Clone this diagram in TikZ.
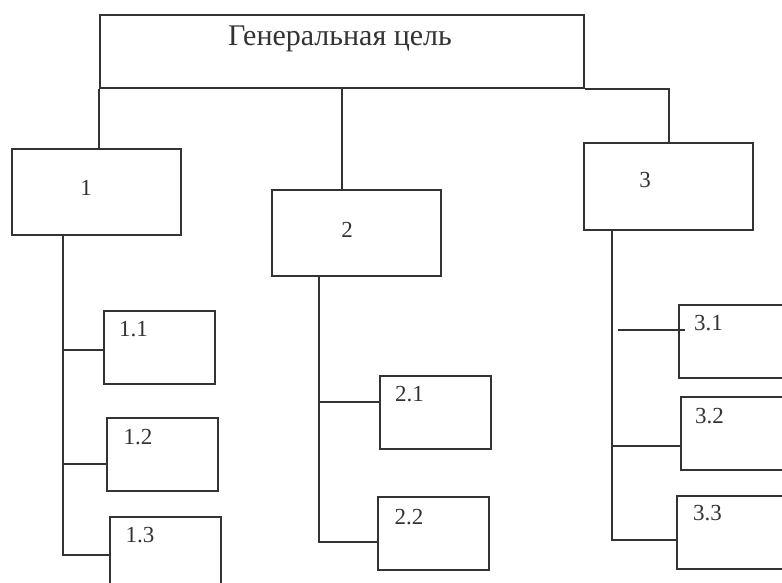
\documentclass[tikz,border=0pt]{standalone}
\usepackage{fontspec}
\setmainfont{Liberation Serif}
\usepackage{tikz}
\usetikzlibrary{positioning}
\usetikzlibrary{calc}

\definecolor{linegray}{HTML}{333333}

\tikzset{
  topbox/.style = {draw, inner sep=0pt, minimum width=242pt, minimum height=36.5pt},
  bigbox/.style = {draw, inner sep=0pt, minimum width=84.5pt, minimum height=43pt},
  smallbox/.style = {draw, inner sep=0pt, minimum width=55.5pt, minimum height=36.5pt},
  titletext/.style = {inner sep=0pt, font=\fontsize{15}{18}\selectfont},
  numtext/.style = {inner sep=0pt, font=\fontsize{11.5}{14}\selectfont}
}

\begin{document}
\begin{tikzpicture}[x=0.5pt, y=-0.5pt, line width=1pt, color=linegray]
\clip (0,0) rectangle (782,583);

\node[topbox] (goal) at (342,51.5) {};
\node[bigbox] (b1) at (96.5,192) {};
\node[bigbox] (b2) at (356.5,233) {};
\node[bigbox] (b3) at (668.5,186.5) {};
\node[smallbox] (b11) at (159,347) {};
\node[smallbox] (b12) at (162.5,454.5) {};
\node[smallbox] (b13) at (165.5,553.5) {};
\node[smallbox] (b21) at (435,412) {};
\node[smallbox] (b22) at (433.5,533.5) {};
\node[smallbox] (b31) at (734,341) {};
\node[smallbox] (b32) at (736,433.5) {};
\node[smallbox] (b33) at (732,532.5) {};

\node[titletext] (tgoal) at ($(goal)+(-2,-12.5)$) {Генеральная цель};
\node[numtext] (t1) at ($(b1)+(-10.5,-4)$) {1};
\node[numtext] (t2) at ($(b2)+(-9.5,-3)$) {2};
\node[numtext] (t3) at ($(b3)+(-23.5,-6.5)$) {3};
\node[numtext] (t11) at ($(b11.north west)+(31,20)$) {1.1};
\node[numtext] (t12) at ($(b12.north west)+(32,20)$) {1.2};
\node[numtext] (t13) at ($(b13.north west)+(31,19)$) {1.3};
\node[numtext] (t21) at ($(b21.north west)+(31,20)$) {2.1};
\node[numtext] (t22) at ($(b22.north west)+(32,21)$) {2.2};
\node[numtext] (t31) at ($(b31.north west)+(31,20)$) {3.1};
\node[numtext] (t32) at ($(b32.north west)+(30,20)$) {3.2};
\node[numtext] (t33) at ($(b33.north west)+(32,18)$) {3.3};

\draw (goal.south west) -- (goal.south west |- b1.north);
\draw (goal.south) -- (goal.south |- b2.north);
\draw (goal.south east) -| (b3.north);

\coordinate (tr1) at ($(b1.south west)+(52,0)$);
\coordinate (tr2) at ($(b2.south west)+(48,0)$);
\coordinate (tr3) at ($(b3.south west)+(29,0)$);
\coordinate (c11) at ($(b11.north west)+(0,40)$);
\coordinate (c12) at ($(b12.north west)+(0,47)$);
\coordinate (c13) at ($(b13.north west)+(0,39)$);
\coordinate (c21) at ($(b21.north west)+(0,27)$);
\coordinate (c22) at ($(b22.north west)+(0,46)$);
\coordinate (c31) at ($(b31.north west)+(0,26)$);
\coordinate (c32) at ($(b32.north west)+(0,50)$);
\coordinate (c33) at ($(b33.north west)+(0,45)$);

\draw (tr1) |- (c13);
\draw (tr1 |- c11) -- (c11);
\draw (tr1 |- c12) -- (c12);

\draw (tr2) |- (c22);
\draw (tr2 |- c21) -- (c21);

\draw (tr3) |- (c33);
\draw ($(tr3 |- c31)+(6,0)$) -- ($(c31)+(7,0)$);
\draw (tr3 |- c32) -- (c32);
\end{tikzpicture}
\end{document}
